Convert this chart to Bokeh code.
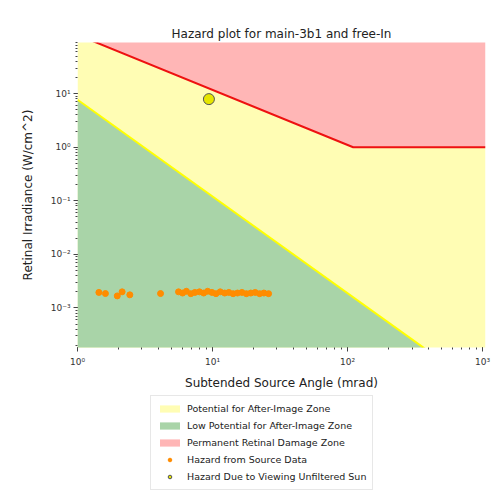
from bokeh.plotting import figure
from bokeh.models import Range1d, CustomJSTickFormatter, Legend, LegendItem
from bokeh.layouts import column
from bokeh.embed import file_html
from bokeh.resources import INLINE

# --- data ---------------------------------------------------------------
# Permanent retinal damage threshold (mrad, W/cm^2)
perm_x = [1.0, 110.0, 1050.0]
perm_y = [125.0, 1.0, 1.0]
# Low-potential after-image threshold
low_x = [1.0, 1050.0]
low_y = [7.7, 2.7e-5]
# Hazard from source data
src_x = [1.44, 1.61, 1.97, 2.14, 2.44, 4.12,
         5.6, 6.0, 6.4, 6.9, 7.4, 8.0, 8.6, 9.2, 9.9, 10.6, 11.4, 12.3,
         13.2, 14.2, 15.3, 16.5, 17.8, 19.2, 20.7, 22.3, 24.0, 26.0]
src_y = [1.95e-3, 1.86e-3, 1.68e-3, 2.0e-3, 1.76e-3, 1.86e-3,
         2.0e-3, 1.9e-3, 2.05e-3, 1.85e-3, 1.95e-3, 2.0e-3, 1.9e-3, 2.05e-3, 1.95e-3, 1.85e-3, 2.0e-3, 1.9e-3,
         1.95e-3, 1.85e-3, 1.9e-3, 1.95e-3, 1.85e-3, 1.9e-3, 1.95e-3, 1.85e-3, 1.9e-3, 1.85e-3]
# Unfiltered sun
sun_x = [9.4]
sun_y = [7.9]

legend_labels = ["Potential for After-Image Zone",
                 "Low Potential for After-Image Zone",
                 "Permanent Retinal Damage Zone",
                 "Hazard from Source Data",
                 "Hazard Due to Viewing Unfiltered Sun"]

X_RANGE = (1.0, 1050.0)
Y_RANGE = (1.83e-4, 90.0)
FLOOR = 1e-7
CEIL = 1e4

FONT = "DejaVu Sans"
YELLOW = "#fffdb4"
GREEN = "#a9d4a8"
PINK = "#ffb6b6"
ORANGE = "#ff8c00"
SUN = "#e6e600"

p = figure(frame_width=408, frame_height=305, x_axis_type="log", y_axis_type="log",
           x_range=Range1d(*X_RANGE), y_range=Range1d(*Y_RANGE),
           output_backend="svg", toolbar_location=None,
           title="Hazard plot for main-3b1 and free-In",
           min_border_left=77, min_border_right=13, min_border_top=42, min_border_bottom=0)

p.outline_line_color = None
p.grid.visible = False
p.background_fill_color = "white"
p.border_fill_color = "white"

p.title.text_font = FONT
p.title.text_font_size = "12px"
p.title.text_font_style = "normal"
p.title.text_color = "#222222"
p.title.align = "center"
p.title.standoff = 4

fmt = CustomJSTickFormatter(code="""
const sup = {"-":"\u207b","0":"\u2070","1":"\u00b9","2":"\u00b2","3":"\u00b3","4":"\u2074","5":"\u2075","6":"\u2076","7":"\u2077","8":"\u2078","9":"\u2079"};
const e = Math.round(Math.log10(tick));
return "10" + String(e).split("").map(c => sup[c]).join("");
""")

for ax in (p.xaxis[0], p.yaxis[0]):
    ax.formatter = fmt
    ax.axis_line_color = None
    ax.major_tick_line_color = "#444444"
    ax.minor_tick_line_color = "#444444"
    ax.major_tick_out = 4
    ax.major_tick_in = 0
    ax.minor_tick_out = 2
    ax.minor_tick_in = 0
    ax.major_label_text_font = FONT
    ax.major_label_text_font_size = "9px"
    ax.major_label_text_color = "#333333"
    ax.axis_label_text_font = FONT
    ax.axis_label_text_font_size = "12px"
    ax.axis_label_text_font_style = "normal"
    ax.axis_label_text_color = "#222222"

p.xaxis.axis_label = "Subtended Source Angle (mrad)"
p.yaxis.axis_label = "Retinal Irradiance (W/cm^2)"
p.xaxis.major_label_standoff = 5
p.yaxis.major_label_standoff = 3
p.xaxis.axis_label_standoff = 6
p.yaxis.axis_label_standoff = 13

p.varea(x=perm_x, y1=[FLOOR] * len(perm_x), y2=perm_y, fill_color=YELLOW)
p.varea(x=perm_x, y1=perm_y, y2=[CEIL] * len(perm_x), fill_color=PINK)
p.varea(x=low_x, y1=[FLOOR] * len(low_x), y2=low_y, fill_color=GREEN)
p.line(low_x, low_y, line_color="#ffff00", line_width=2)
p.line(perm_x, perm_y, line_color="#ee1111", line_width=2)
p.scatter(src_x, src_y, size=6, fill_color=ORANGE, line_color=ORANGE)
p.scatter(sun_x, sun_y, size=11, fill_color=SUN, line_color="#555555", line_width=1)

# --- legend panel (separate figure below the plot) ----------------------
lf = figure(width=498, height=102, x_range=Range1d(0, 1), y_range=Range1d(0, 1),
            output_backend="svg", toolbar_location=None,
            x_axis_location=None, y_axis_location=None,
            min_border=0)
lf.outline_line_color = None
lf.grid.visible = False
lf.border_fill_color = "white"
lf.background_fill_color = "white"

# legend-only proxies, placed outside the visible range
off = [-5.0, -4.0]
lr1 = lf.varea(x=off, y1=off, y2=off, fill_color=YELLOW)
lr2 = lf.varea(x=off, y1=off, y2=off, fill_color=GREEN)
lr3 = lf.varea(x=off, y1=off, y2=off, fill_color=PINK)
lr4 = lf.scatter(x=off[:1], y=off[:1], size=6, fill_color=ORANGE, line_color=ORANGE)
lr5 = lf.scatter(x=off[:1], y=off[:1], size=8, fill_color=SUN, line_color="#555555", line_width=1)

legend = Legend(items=[LegendItem(label=lab, renderers=[r])
                       for lab, r in zip(legend_labels, [lr1, lr2, lr3, lr4, lr5])],
                location=(73, 4), orientation="vertical")
legend.label_text_font = FONT
legend.label_text_font_size = "9.5px"
legend.label_text_color = "#222222"
legend.label_height = 13
legend.glyph_height = 9
legend.glyph_width = 25
legend.spacing = 4
legend.padding = 6
legend.margin = 0
legend.border_line_color = "#d0d0d0"
legend.border_line_width = 1
legend.background_fill_alpha = 0.9
lf.add_layout(legend, "center")

layout = column(p, lf, spacing=0)
open("out.html", "w").write(file_html(layout, INLINE))
